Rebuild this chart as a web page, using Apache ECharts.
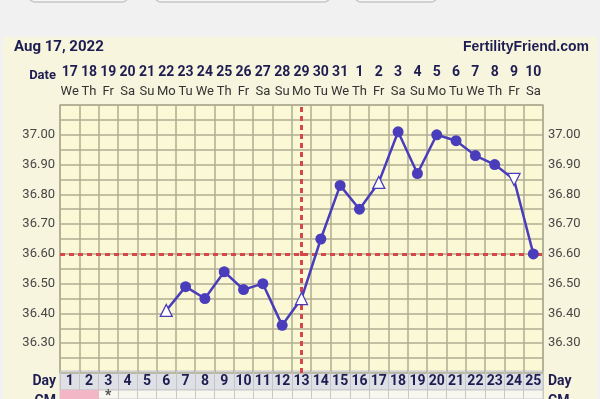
<!DOCTYPE html>
<html><head><meta charset="utf-8">
<script src="https://cdn.jsdelivr.net/npm/echarts@6/dist/echarts.min.js"></script>
<style>html,body{margin:0;padding:0;background:#f1f1f1;}#c{width:600px;height:399px;}</style>
</head><body><div id="c"></div>
<script>
const chartTitle = 'Aug 17, 2022';
const siteName = 'FertilityFriend.com';
const dates = ['17','18','19','20','21','22','23','24','25','26','27','28','29','30','31','1','2','3','4','5','6','7','8','9','10'];
const weekdays = ['We','Th','Fr','Sa','Su','Mo','Tu','We','Th','Fr','Sa','Su','Mo','Tu','We','Th','Fr','Sa','Su','Mo','Tu','We','Th','Fr','Sa'];
const cycleDays = ['1','2','3','4','5','6','7','8','9','10','11','12','13','14','15','16','17','18','19','20','21','22','23','24','25'];
const temps = [null,null,null,null,null,36.41,36.49,36.45,36.54,36.48,36.50,36.36,36.45,36.65,36.83,36.75,36.84,37.01,36.87,37.00,36.98,36.93,36.90,36.85,36.60];
const openUpDays = [6,13,17];
const openDownDays = [24];
const coverline = 36.60;
const ovulationDay = 13;
const yTicks = [36.30,36.40,36.50,36.60,36.70,36.80,36.90,37.00];
const yMin = 36.20, yMax = 37.10, yStep = 0.05;
const cmMarks = ['pink','pink','*','','','','','','','','','','','','','','','','','','','','','',''];

const NAVY = '#1e1d52';
const GRIDC = '#afad92';
const PURPLE = '#4a3dbb';
const RED = '#d5484a';

const chart = echarts.init(document.getElementById('c'), null, {renderer:'canvas'});
const yLabelFmt = v => yTicks.some(t => Math.abs(t - v) < 1e-6) ? v.toFixed(2) : '';

const lineData = temps.map((t, i) => {
  const d = i + 1;
  if (t == null) return null;
  if (openUpDays.includes(d)) return {value: t, symbol: 'triangle', symbolSize: 12, itemStyle: {color: '#ffffff', borderColor: PURPLE, borderWidth: 1.3}};
  if (openDownDays.includes(d)) return {value: t, symbol: 'triangle', symbolRotate: 180, symbolSize: 12, itemStyle: {color: '#ffffff', borderColor: PURPLE, borderWidth: 1.3}};
  return {value: t};
});

const option = {
  backgroundColor: '#f1f1f1',
  animation: false,
  textStyle: {fontFamily: 'Roboto'},
  graphic: [
    {type:'rect', z:-10, shape:{x:29, y:-30, width:99, height:32, r:6}, style:{fill:'#f6f6f6', stroke:'#c6c6c6', lineWidth:1.5}},
    {type:'rect', z:-10, shape:{x:155, y:-30, width:175, height:32, r:6}, style:{fill:'#f6f6f6', stroke:'#c6c6c6', lineWidth:1.5}},
    {type:'rect', z:-10, shape:{x:355, y:-30, width:82, height:32, r:6}, style:{fill:'#f6f6f6', stroke:'#c6c6c6', lineWidth:1.5}},
    {type:'rect', z:-10, shape:{x:3, y:37, width:594, height:370}, style:{fill:'#f8f5de'}},
    {type:'text', left:14, top:40, style:{text:chartTitle, font:'bold 15px Roboto', fill:NAVY}},
    {type:'text', right:11, top:40, style:{text:siteName, font:'bold 14px "Liberation Sans"', fill:NAVY}},
    {type:'text', x:56, y:76, style:{text:'Date', font:'bold 13px Roboto', fill:NAVY, align:'right', verticalAlign:'middle'}},
    {type:'text', x:56, y:381, style:{text:'Day', font:'bold 14px Roboto', fill:NAVY, align:'right', verticalAlign:'middle'}},
    {type:'text', x:548, y:381, style:{text:'Day', font:'bold 14px Roboto', fill:NAVY, align:'left', verticalAlign:'middle'}},
    {type:'text', x:56, y:401, style:{text:'CM', font:'bold 14px Roboto', fill:NAVY, align:'right', verticalAlign:'middle'}},
    {type:'text', x:548, y:401, style:{text:'CM', font:'bold 14px Roboto', fill:NAVY, align:'left', verticalAlign:'middle'}}
  ],
  grid: [
    {left:60, right:57, top:105, bottom:26, show:true, backgroundColor:'#fbf8d6', borderColor:GRIDC, borderWidth:1.5},
    {left:60, right:57, top:371, height:19, show:true, backgroundColor:'#dfdfe6', borderColor:'#c4c4c8', borderWidth:1},
    {left:60, right:57, top:390, height:20, show:true, backgroundColor:'#f7f7f0', borderColor:'#c8c8c8', borderWidth:1}
  ],
  xAxis: [
    {type:'category', gridIndex:0, data:dates, position:'top', boundaryGap:true,
     axisLine:{show:false}, axisTick:{show:false},
     splitLine:{show:true, lineStyle:{color:GRIDC, width:1.5}},
     axisLabel:{interval:0, margin:4, formatter:(v, i) => '{d|' + v + '}\n{w|' + weekdays[i] + '}',
       rich:{d:{fontFamily:'Roboto', fontWeight:'bold', fontSize:14, color:NAVY, lineHeight:19, align:'center'},
             w:{fontFamily:'Roboto', fontSize:13, color:'#333333', lineHeight:19, align:'center'}}}},
    {type:'category', gridIndex:1, data:cycleDays, position:'top', boundaryGap:true,
     axisLine:{show:false}, axisTick:{show:false},
     splitLine:{show:true, lineStyle:{color:'#c4c4c8', width:1}},
     axisLabel:{interval:0, inside:true, margin:3, fontFamily:'Roboto', fontWeight:'bold', fontSize:14, color:NAVY}},
    {type:'category', gridIndex:2, data:cycleDays, boundaryGap:true,
     axisLine:{show:false}, axisTick:{show:false}, axisLabel:{show:false},
     splitLine:{show:true, lineStyle:{color:'#c8c8c8', width:1}}}
  ],
  yAxis: [
    {type:'value', gridIndex:0, min:yMin, max:yMax, interval:yStep, position:'left',
     axisLine:{show:false}, axisTick:{show:false},
     splitLine:{show:true, lineStyle:{color:GRIDC, width:1.5}},
     axisLabel:{margin:5, formatter:yLabelFmt, fontFamily:'Roboto', fontSize:13, color:'#474747'}},
    {type:'value', gridIndex:0, min:yMin, max:yMax, interval:yStep, position:'right',
     axisLine:{show:false}, axisTick:{show:false}, splitLine:{show:false},
     axisLabel:{margin:5, formatter:yLabelFmt, fontFamily:'Roboto', fontSize:13, color:'#474747'}},
    {type:'value', gridIndex:1, show:false, min:0, max:1},
    {type:'value', gridIndex:2, show:false, min:0, max:1}
  ],
  series: [
    {type:'line', xAxisIndex:0, yAxisIndex:0, data:lineData, connectNulls:false,
     symbol:'circle', symbolSize:11, z:5,
     lineStyle:{color:PURPLE, width:2.5}, itemStyle:{color:PURPLE},
     markLine:{silent:true, symbol:'none', z:3, label:{show:false},
       lineStyle:{color:RED, width:3, type:[5,4]},
       data:[{yAxis:coverline}, {xAxis:dates[ovulationDay-1]}]}},
    {type:'bar', xAxisIndex:2, yAxisIndex:3, barWidth:'100%',
     data:cmMarks.map(m => m === 'pink' ? 1 : null), itemStyle:{color:'#f2b6c6'}},
    {type:'scatter', xAxisIndex:2, yAxisIndex:3, symbolSize:0,
     data:cmMarks.map(m => m === '*' ? 0.25 : null),
     label:{show:true, formatter:'*', position:'inside', fontFamily:'Roboto', fontWeight:'bold', fontSize:14, color:'#222'}}
  ]
};
chart.setOption(option);
</script></body></html>
